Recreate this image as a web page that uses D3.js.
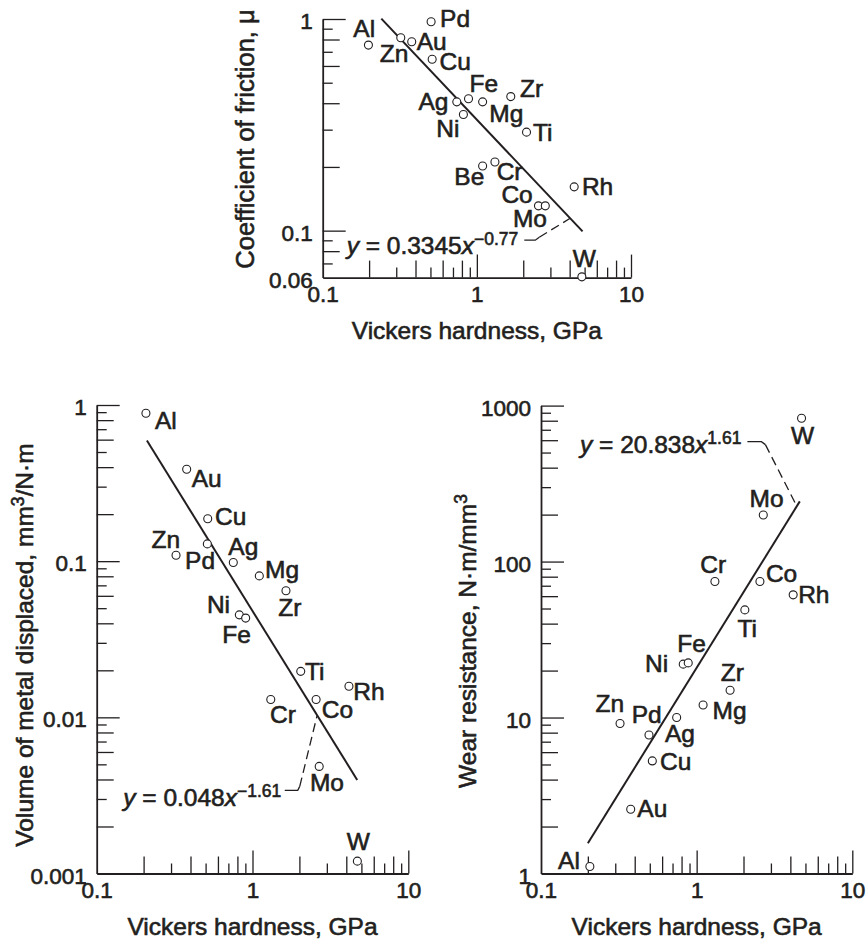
<!DOCTYPE html>
<html><head><meta charset="utf-8">
<script src="https://cdn.jsdelivr.net/npm/d3@7"></script>
<style>
body{margin:0;background:#fff}
svg{display:block;background:#fff}
text{font-family:"Liberation Sans",Arial,Helvetica,sans-serif;fill:#231f20;stroke:#231f20;stroke-width:0.6px}
</style>
</head><body><svg id="c" width="868" height="943"></svg>
<script>
// ---------------- DATA ----------------
// Coefficient of friction vs Vickers hardness
const frictionNames    = ["Al","Zn","Au","Pd","Cu","Ag","Ni","Fe","Mg","Be","Cr","Zr","Ti","Co","Mo","Rh","W"];
const frictionHardness = [0.198,0.321,0.378,0.505,0.513,0.741,0.818,0.883,1.09,1.09,1.31,1.66,2.1,2.51,2.78,4.28,4.8];
const frictionCoef     = [0.753,0.816,0.781,0.97,0.645,0.406,0.354,0.42,0.406,0.202,0.211,0.43,0.292,0.131,0.131,0.161,0.0605];
const frictionFit      = {a:0.3345, b:-0.77, xFrom:0.24, xTo:4.85};

// Volume of metal displaced vs Vickers hardness
const volumeNames    = ["Al","Au","Cu","Zn","Pd","Ag","Mg","Zr","Ni","Fe","Ti","Rh","Cr","Co","Mo","W"];
const volumeHardness = [0.207,0.378,0.516,0.323,0.513,0.753,1.106,1.64,0.823,0.904,2.04,4.16,1.31,2.56,2.68,4.71];
const volumeValues   = [0.885,0.388,0.187,0.109,0.129,0.098,0.0805,0.0646,0.0453,0.0432,0.0197,0.0158,0.013,0.013,0.00485,0.0012];
const volumeFit      = {a:0.048, b:-1.61, xFrom:0.21, xTo:4.7};

// Wear resistance vs Vickers hardness
const wearNames    = ["Al","Au","Cu","Pd","Zn","Ag","Mg","Zr","Ni","Fe","Ti","Rh","Co","Cr","Mo","W"];
const wearHardness = [0.206,0.377,0.519,0.494,0.322,0.744,1.10,1.64,0.82,0.883,2.04,4.17,2.55,1.31,2.68,4.72];
const wearValues   = [1.11,2.58,5.27,7.73,9.15,10,12.04,14.96,22.0,22.4,49,61.2,74.5,74.5,199,830];
const wearFit      = {a:20.838, b:1.61, xFrom:0.2, xTo:4.6};

// Tick labels
const xTickLabels         = [0.1, 1, 10];
const frictionYTickLabels = [0.06, 0.1, 1];
const volumeYTickLabels   = [0.001, 0.01, 0.1, 1];
const wearYTickLabels     = [1, 10, 100, 1000];

// Texts
const xTitle = "Vickers hardness, GPa";
const frictionYTitle = ["Coefficient of friction, μ"];
const volumeYTitle = ["Volume of metal displaced, mm", "3", "/N·m"];
const wearYTitle = ["Wear resistance, N·m/mm", "3"];
const frictionEq = ["0.3345", "−0.77"];
const volumeEq = ["0.048", "−1.61"];
const wearEq = ["20.838", "1.61"];

// ---------------- LAYOUT (positions / styles, not data) ----------------
const frictionLabelOffsets = {Al:["end",6.7,-7.7],Zn:["end",7.6,24],Au:["start",5,8.3],Pd:["start",9,5.6],Cu:["start",7.3,10.7],
  Ag:["end",-8.4,8.3],Ni:["end",-4,22.4],Fe:["start",1,-7],Mg:["start",6.6,20],Be:["end",1.7,19.3],Cr:["start",1.7,18.3],
  Zr:["start",9.3,0],Ti:["start",6.4,8.7],Co:["end",-5.7,-2.5],Mo:["end",1.7,21],Rh:["start",7.7,8.3],W:["middle",2.5,-10]};
const volumeLabelOffsets = {Al:["start",9,16],Au:["start",5,17.4],Cu:["start",7.3,6],Zn:["end",4,-7],Pd:["end",7.7,25.3],
  Ag:["start",-5,-7.7],Mg:["start",5.7,2.3],Zr:["start",-7.7,25],Ni:["end",-9.3,-1.7],Fe:["middle",-9,25],Ti:["start",4.3,9],
  Rh:["start",4.3,13.3],Cr:["start",-0.7,23.3],Co:["start",5.7,18.3],Mo:["start",-9.3,25],W:["middle",1,-10.7]};
const wearLabelOffsets = {Al:["end",-10,2.3],Au:["start",6.6,7.3],Cu:["start",7.7,9.3],Pd:["start",-17.3,-12.4],Zn:["end",4,-11.6],
  Ag:["start",-11.7,24.4],Mg:["start",9.4,14.3],Zr:["start",-9.3,-9.3],Ni:["end",-15,8.3],Fe:["start",-11,-10.6],Ti:["start",-7.3,26.7],
  Rh:["start",5,8.3],Co:["start",6,0],Cr:["middle",-1.7,-8.4],Mo:["middle",3.3,-8.3],W:["middle",1,25.7]};

const INK = "#231f20";
const FS_LABEL = 24.5, FS_TICK = 22.5, FS_TITLE = 24.5, FS_SUP = 17.5;
const svg = d3.select("#c");

const charts = [
  {names:frictionNames, xs:frictionHardness, ys:frictionCoef, fit:frictionFit, yLabels:frictionYTickLabels,
   yDomain:[0.06,1], xRange:[322.7,631], yRange:[277.6,19], offsets:frictionLabelOffsets,
   yTitle:frictionYTitle, yTitleX:254, yTitleY:139, xTitleY:339, yTitleSize:25.5,
   eq:frictionEq, eqPos:[0.143,0.0774], leader:{gap:6, dy:-14, h:11, bend:[4,-3], endX:4.03}},
  {names:volumeNames, xs:volumeHardness, ys:volumeValues, fit:volumeFit, yLabels:volumeYTickLabels,
   yDomain:[0.001,1], xRange:[96.7,408.3], yRange:[873.5,405], offsets:volumeLabelOffsets,
   yTitle:volumeYTitle, yTitleX:33, yTitleY:645, xTitleY:935, yTitleSize:24.5,
   eq:volumeEq, eqPos:[0.148,0.00269], leader:{gap:3.5, dy:-16, h:13, bend:[2,-4], endX:2.6}},
  {names:wearNames, xs:wearHardness, ys:wearValues, fit:wearFit, yLabels:wearYTickLabels,
   yDomain:[1,1000], xRange:[541,852.3], yRange:[873.5,405.6], offsets:wearLabelOffsets,
   yTitle:wearYTitle, yTitleX:476, yTitleY:641, xTitleY:935, yTitleSize:24.5,
   eq:wearEq, eqPos:[0.178,495], leader:{gap:6, dy:-11.6, h:14, bend:[4,3], endX:4.4}}
];

function logTicks(domain){
  const out=[];
  const lo=Math.floor(Math.log10(domain[0])), hi=Math.ceil(Math.log10(domain[1]));
  for(let e=lo;e<=hi;e++){
    for(let m=1;m<=9;m++){
      const v=+(m*Math.pow(10,e)).toPrecision(6);
      if(v>=domain[0]*0.999 && v<=domain[1]*1.001) out.push({v,m});
    }
  }
  return out;
}
function tickLen(m){ return m===1?23:(m%2===0?17:10); }
function near(a,b){ return Math.abs(a-b) <= 1e-9*Math.max(Math.abs(a),Math.abs(b)); }

charts.forEach(cfg=>{
  const g = svg.append("g");
  const x = d3.scaleLog().domain([0.1,10]).range(cfg.xRange);
  const y = d3.scaleLog().domain(cfg.yDomain).range(cfg.yRange);
  const x0 = cfg.xRange[0], yB = cfg.yRange[0];

  // X axis
  const xt = logTicks([0.1,10]);
  const xAxis = d3.axisBottom(x).tickValues(xt.map(d=>d.v)).tickSizeOuter(0).tickSizeInner(-17)
      .tickFormat(d=> xTickLabels.some(l=>near(l,d))? String(d):"");
  const gx = g.append("g").attr("transform",`translate(0,${yB})`).call(xAxis);
  gx.attr("font-family",null).attr("font-size",null);
  gx.select(".domain").attr("stroke",INK).attr("stroke-width",1.8);
  gx.selectAll(".tick line").attr("stroke",INK).attr("stroke-width",1.3)
     .attr("y2",d=>{const t=xt.find(q=>near(q.v,d)); return near(d,0.1)?0:-tickLen(t.m);});
  gx.selectAll(".tick text").attr("y",24.5).attr("dy",null).attr("font-size",FS_TICK);

  // Y axis
  const yt = logTicks(cfg.yDomain);
  const yAxis = d3.axisLeft(y).tickValues(yt.map(d=>d.v)).tickSizeOuter(0).tickSizeInner(-17)
      .tickFormat(d=> cfg.yLabels.some(l=>near(l,d))? String(d):"");
  const gy = g.append("g").attr("transform",`translate(${x0},0)`).call(yAxis);
  gy.attr("font-family",null).attr("font-size",null);
  gy.select(".domain").attr("stroke",INK).attr("stroke-width",1.8);
  gy.selectAll(".tick line").attr("stroke",INK).attr("stroke-width",1.3)
     .attr("x2",d=>{ if(near(d,cfg.yDomain[0])) return 0; const t=yt.find(q=>near(q.v,d)); return tickLen(t.m);});
  gy.selectAll(".tick text").attr("x",-10).attr("dy",null).attr("font-size",FS_TICK)
     .attr("y",d=> near(d,cfg.yDomain[0]) ? 10 : 9.5);

  // Titles
  g.append("text").attr("x",x(1)).attr("y",cfg.xTitleY).attr("text-anchor","middle")
    .attr("font-size",FS_TITLE).text(xTitle);
  const yt2 = g.append("text").attr("transform",`translate(${cfg.yTitleX},${cfg.yTitleY}) rotate(-90)`)
    .attr("text-anchor","middle").attr("font-size",cfg.yTitleSize);
  cfg.yTitle.forEach((s,i)=>{
    const sp = yt2.append("tspan").text(s);
    if(i===1){ sp.attr("font-size",FS_SUP).attr("dy",-9); }
    if(i===2){ sp.attr("dy",9); }
  });

  // Fit line
  const f = cfg.fit;
  const fitPts = [f.xFrom, f.xTo].map(v=>[v, f.a*Math.pow(v,f.b)]);
  g.append("path").datum(fitPts)
    .attr("d", d3.line().x(d=>x(d[0])).y(d=>y(d[1])))
    .attr("fill","none").attr("stroke",INK).attr("stroke-width",2);

  // Points
  const pts = cfg.names.map((n,i)=>({n, x:cfg.xs[i], y:cfg.ys[i]}));
  g.selectAll("circle.pt").data(pts).join("circle").attr("class","pt")
    .attr("cx",d=>x(d.x)).attr("cy",d=>y(d.y)).attr("r",4)
    .attr("fill","#fff").attr("stroke",INK).attr("stroke-width",1.1);
  g.selectAll("text.lab").data(pts).join("text").attr("class","lab")
    .attr("font-size",FS_LABEL)
    .attr("text-anchor",d=>cfg.offsets[d.n][0])
    .attr("x",d=>x(d.x)+cfg.offsets[d.n][1])
    .attr("y",d=>y(d.y)+cfg.offsets[d.n][2])
    .text(d=>d.n);

  // Equation annotation
  const ex = x(cfg.eqPos[0]), ey = y(cfg.eqPos[1]);
  const eq = g.append("text").attr("x",ex).attr("y",ey).attr("font-size",FS_LABEL);
  eq.append("tspan").attr("font-style","italic").text("y");
  eq.append("tspan").text(" = "+cfg.eq[0]);
  eq.append("tspan").attr("font-style","italic").text("x");
  eq.append("tspan").attr("font-size",FS_SUP).attr("dy",-9).text(cfg.eq[1]);
  const bb = eq.node().getBBox();
  const L = cfg.leader;
  const p0 = [bb.x+bb.width+L.gap, ey+L.dy];
  const p1 = [p0[0]+L.h, p0[1]];
  const p2 = [p1[0]+L.bend[0], p1[1]+L.bend[1]];
  const pe = [x(L.endX), y(f.a*Math.pow(L.endX,f.b))];
  g.append("path").attr("d", d3.line()([p0,p1,p2])).attr("fill","none").attr("stroke",INK).attr("stroke-width",1.3);
  g.append("path").attr("d", d3.line()([p2,pe])).attr("fill","none").attr("stroke",INK).attr("stroke-width",1.3)
    .attr("stroke-dasharray","9,5");
});
</script></body></html>
